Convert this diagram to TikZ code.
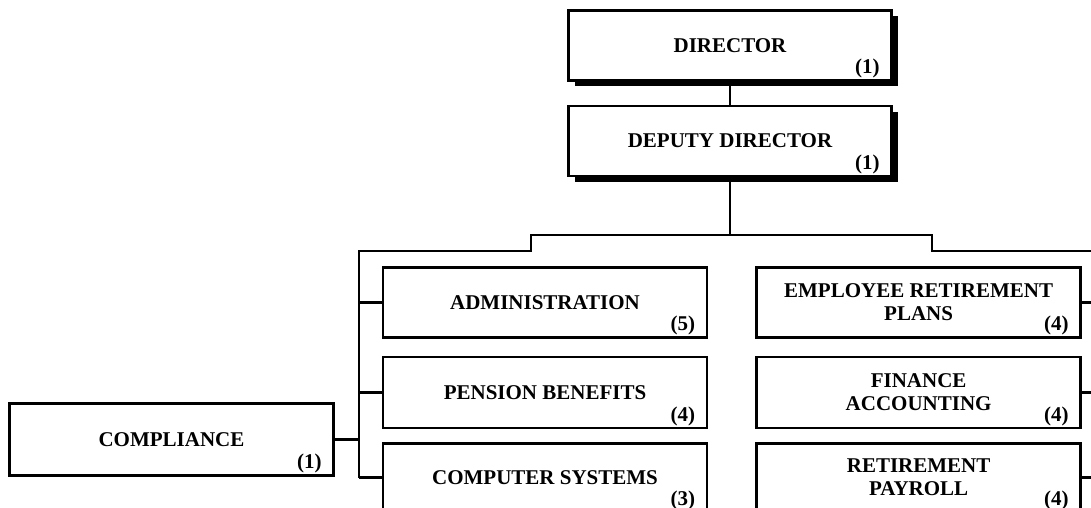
\documentclass[tikz,border=0pt]{standalone}
\usepackage{fontspec}
\setmainfont{Liberation Serif}
\usetikzlibrary{positioning, shadows}

\newcommand{\orgfont}{\fontsize{21}{23}\selectfont\bfseries}

\tikzset{
    base/.style = {
        draw=black, line width=2.6pt, fill=white, rectangle,
        align=center, inner sep=0pt, font=\orgfont
    },
    % Boxes
    office/.style = {base, minimum width=324pt, minimum height=70pt},
    head/.style   = {office, minimum width=323pt,
        drop shadow={shadow xshift=6pt, shadow yshift=-6pt, fill=black, opacity=1}},
    % Head count in the lower right corner
    count/.style = {font=\orgfont, anchor=base east, inner sep=0pt, xshift=-13pt, yshift=8pt},
    % Lines
    link/.style = {line width=2.6pt}
}

\begin{document}
\begin{tikzpicture}[x=1pt, y=-1pt]
    \useasboundingbox (0,0) rectangle (1091,508);
    \clip (0,0) rectangle (1091,508);

    % Top of the chart
    \node (dir) [head] at (730,45.5) {DIRECTOR};
    \node (dep) [head, below=23pt of dir] {DEPUTY DIRECTOR};

    % Left column
    \node (adm) [office] at (545,302.5) {ADMINISTRATION};
    \node (pen) [office, minimum height=71pt, below=17pt of adm] {PENSION BENEFITS};
    \node (cmp) [office, minimum height=68pt, below=13pt of pen] {COMPUTER SYSTEMS};

    % Right column
    \node (emp) [office, right=47pt of adm] {EMPLOYEE RETIREMENT\\PLANS};
    \node (fin) [office, minimum height=71pt, below=17pt of emp] {FINANCE\\ACCOUNTING};
    \node (pay) [office, minimum height=68pt, below=13pt of fin] {RETIREMENT\\PAYROLL};

    % Side box
    \node (com) [office, minimum height=72pt] at (171.5,439.5) {COMPLIANCE};

    % Head counts
    \node (dir-n) [count] at (dir.south east) {(1)};
    \node (dep-n) [count] at (dep.south east) {(1)};
    \node (adm-n) [count] at (adm.south east) {(5)};
    \node (pen-n) [count] at (pen.south east) {(4)};
    \node (cmp-n) [count] at (cmp.south east) {(3)};
    \node (emp-n) [count] at (emp.south east) {(4)};
    \node (fin-n) [count] at (fin.south east) {(4)};
    \node (pay-n) [count] at (pay.south east) {(4)};
    \node (com-n) [count] at (com.south east) {(1)};

    % Bus points
    \coordinate (ljog) at (531,235);
    \coordinate (rjog) at (932,235);
    \coordinate (lbus) at (359,251);
    \coordinate (rbus) at (1098,251);

    % Connectors
    \draw [link] (dir) -- (dep);
    \draw [link] (dep.south) -- (dep.south |- ljog);
    \draw [link] (lbus |- cmp.west) -- (lbus) -- (ljog |- lbus) -- (ljog) -- (rjog) -- (rjog |- rbus) -- (rbus) -- (rbus |- pay.east);
    \foreach \n in {adm, pen, cmp}
        \draw [link] (\n.west) -- (\n.west -| lbus);
    \foreach \n in {emp, fin, pay}
        \draw [link] (\n.east) -- (\n.east -| rbus);
    \draw [link] (com.east) -- (com.east -| lbus);
\end{tikzpicture}
\end{document}
